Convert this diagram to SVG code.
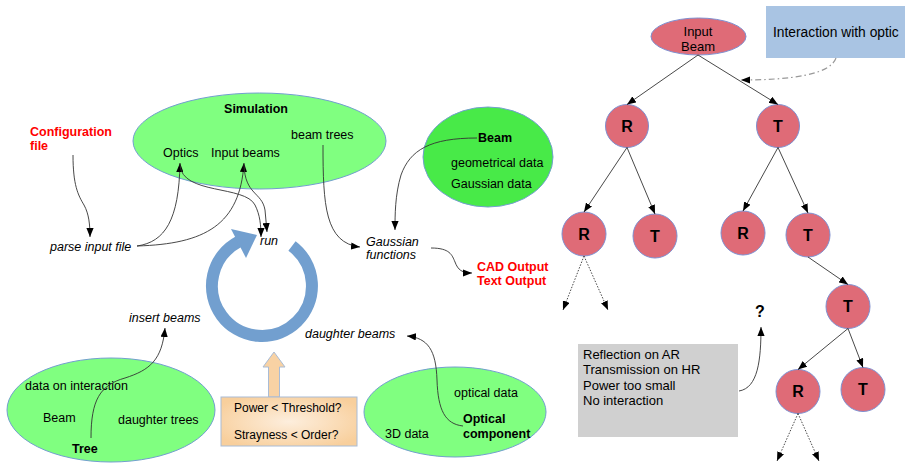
<svg xmlns="http://www.w3.org/2000/svg" width="905" height="463" viewBox="0 0 905 463">
<defs>
<marker id="ah" viewBox="0 0 10 8" refX="10" refY="4" markerWidth="9" markerHeight="7.2" markerUnits="userSpaceOnUse" orient="auto"><path d="M0,0 L10,4 L0,8 z" fill="#000"/></marker>
<radialGradient id="peach" cx="50%" cy="50%" r="60%"><stop offset="0" stop-color="#fdeedd"/><stop offset="1" stop-color="#f8cf9c"/></radialGradient>
<style>
.t{font-family:"Liberation Sans",Arial,sans-serif;font-size:12.5px;fill:#000}
.b{font-weight:bold}
.i{font-style:italic}
.red{fill:#ff0000;font-weight:bold}
.g{fill:#80ff80;stroke:#729fcf;stroke-width:1}
.n{fill:#df6b77;stroke:#7e8fd0;stroke-width:1}
.nt{font-family:"Liberation Sans",Arial,sans-serif;font-size:16px;font-weight:bold;text-anchor:middle;fill:#000}
.c{fill:none;stroke:#333;stroke-width:0.9}
.d{fill:none;stroke:#333;stroke-width:0.9;stroke-dasharray:1.5 1.5}
</style>
</defs>
<rect width="905" height="463" fill="#fff"/>

<g id="simulation">
<ellipse class="g" cx="259.5" cy="141" rx="126.5" ry="48"/>
<text class="t b" x="256" y="113" text-anchor="middle">Simulation</text>
<text class="t" x="163" y="157">Optics</text>
<text class="t" x="211" y="157">Input beams</text>
<text class="t" x="291" y="139">beam trees</text>
</g>

<g id="config">
<text class="t red" x="30" y="136">Configuration</text>
<text class="t red" x="30" y="150">file</text>
</g>

<g id="beam">
<ellipse cx="488" cy="157" rx="65" ry="50" fill="#48ea48" stroke="#729fcf" stroke-width="1"/>
<text class="t b" x="478" y="142">Beam</text>
<text class="t" x="451" y="167">geometrical data</text>
<text class="t" x="451" y="188">Gaussian data</text>
</g>

<g id="parse"><text class="t i" x="50" y="251">parse input file</text></g>
<g id="run"><text class="t i" x="260" y="245">run</text></g>
<g id="gaussian">
<text class="t i" x="366" y="246">Gaussian</text>
<text class="t i" x="366" y="259">functions</text>
</g>
<g id="output">
<text class="t red" x="477" y="271">CAD Output</text>
<text class="t red" x="477" y="285">Text Output</text>
</g>
<g id="insert"><text class="t i" x="129" y="322">insert beams</text></g>
<g id="daughter"><text class="t i" x="305" y="338">daughter beams</text></g>

<g id="loop">
<path d="M292,246 A50,50 0 1 1 238.5,241.8" fill="none" stroke="#729fcf" stroke-width="12"/>
<polygon points="231,229 257,235 246,258" fill="#729fcf"/>
</g>

<g id="tree">
<ellipse class="g" cx="111" cy="410" rx="104" ry="52"/>
<text class="t" x="25" y="390">data on interaction</text>
<text class="t" x="43" y="422">Beam</text>
<text class="t" x="118" y="424">daughter trees</text>
<text class="t b" x="72" y="453">Tree</text>
</g>

<g id="condition">
<polygon points="274,352 285,367 279.5,367 279.5,397 268.5,397 268.5,367 263,367" fill="#f8d2a4" stroke="#a9bcd6" stroke-width="1"/>
<rect x="221" y="397" width="136" height="49" fill="url(#peach)" stroke="#a9bcd6" stroke-width="1"/>
<text class="t" x="234" y="412" style="font-size:12px">Power &lt; Threshold?</text>
<text class="t" x="234" y="439" style="font-size:12px">Strayness &lt; Order?</text>
</g>

<g id="optical">
<ellipse class="g" cx="455" cy="412" rx="91" ry="45"/>
<text class="t" x="454" y="397">optical data</text>
<text class="t b" x="463" y="423">Optical</text>
<text class="t b" x="463" y="438">component</text>
<text class="t" x="385" y="438">3D data</text>
</g>

<g id="inputbeam">
<ellipse class="n" cx="698.5" cy="36.5" rx="47.5" ry="18.5"/>
<text class="t" x="698" y="36" text-anchor="middle" style="font-size:13px">Input</text>
<text class="t" x="698" y="51" text-anchor="middle" style="font-size:13px">Beam</text>
</g>
<g id="interaction">
<rect x="766" y="6" width="139" height="52" fill="#a9c4e3"/>
<text class="t" x="773" y="37" style="font-size:13.8px">Interaction with optic</text>
</g>

<g id="n-R1"><circle class="n" cx="627" cy="126" r="21.5"/><text class="nt" x="627" y="132">R</text></g>
<g id="n-T1"><circle class="n" cx="778" cy="126" r="21.5"/><text class="nt" x="778" y="132">T</text></g>
<g id="n-R2"><circle class="n" cx="584" cy="234" r="22"/><text class="nt" x="584" y="240">R</text></g>
<g id="n-T2"><circle class="n" cx="655" cy="236" r="22"/><text class="nt" x="655" y="242">T</text></g>
<g id="n-R3"><circle class="n" cx="743" cy="233" r="22"/><text class="nt" x="743" y="239">R</text></g>
<g id="n-T3"><circle class="n" cx="808" cy="235" r="22"/><text class="nt" x="808" y="241">T</text></g>
<g id="n-T4"><circle class="n" cx="848" cy="306.5" r="22"/><text class="nt" x="848" y="312">T</text></g>
<g id="n-R5"><circle class="n" cx="798" cy="391.5" r="22"/><text class="nt" x="798" y="397">R</text></g>
<g id="n-T5"><circle class="n" cx="863" cy="389.5" r="22"/><text class="nt" x="863" y="395">T</text></g>

<g id="question"><text class="t b" x="755" y="317" style="font-size:16px">?</text></g>
<g id="reasons">
<rect x="578" y="344" width="160" height="93" fill="#d0d0d0"/>
<text class="t" x="583" y="359" style="font-size:13px">Reflection on AR</text>
<text class="t" x="583" y="374" style="font-size:13px">Transmission on HR</text>
<text class="t" x="583" y="390" style="font-size:13px">Power too small</text>
<text class="t" x="583" y="405" style="font-size:13px">No interaction</text>
</g>

<g id="connectors">
<path class="c" marker-end="url(#ah)" d="M73,155 C73,185 78,195 84,205 C89,214 90,225 90,237"/>
<path class="c" marker-end="url(#ah)" d="M137,246 C165,242 179,220 180,163"/>
<path class="c" marker-end="url(#ah)" d="M137,246 C205,244 240,225 244,163"/>
<path class="c" marker-end="url(#ah)" d="M180,165 C182,195 245,185 255,205 C260,215 261,225 261,237"/>
<path class="c" marker-end="url(#ah)" d="M244,165 C245,195 262,192 265,210 L267,232"/>
<path class="c" marker-end="url(#ah)" d="M323,145 C323,205 325,243 360,247"/>
<path class="c" marker-end="url(#ah)" d="M477,138 C430,138 410,150 401,175 C395,195 395,215 395,230"/>
<path class="c" marker-end="url(#ah)" d="M431,248 C450,248 452,255 455,262 C458,270 462,273 472,273"/>
<path class="c" marker-end="url(#ah)" d="M91,438 C91,400 100,385 125,378 C150,370 162,360 165,328"/>
<path class="c" marker-end="url(#ah)" d="M463,426 C445,424 438,410 437,380 C436,350 428,338 407,336"/>
<path class="c" marker-end="url(#ah)" d="M739,391 C758,388 761,360 761,327"/>
<path fill="none" stroke="#999" stroke-width="1.2" stroke-dasharray="6 3 1.5 3" marker-end="url(#ah)" d="M836,58 C830,75 790,80 741,80"/>
<line class="c" marker-end="url(#ah)" x1="698" y1="55" x2="627" y2="104.5"/>
<line class="c" marker-end="url(#ah)" x1="698" y1="55" x2="778" y2="104.5"/>
<line class="c" marker-end="url(#ah)" x1="627" y1="147.5" x2="584" y2="212"/>
<line class="c" marker-end="url(#ah)" x1="627" y1="147.5" x2="655" y2="214"/>
<line class="c" marker-end="url(#ah)" x1="778" y1="147.5" x2="743" y2="211"/>
<line class="c" marker-end="url(#ah)" x1="778" y1="147.5" x2="808" y2="213"/>
<line class="c" marker-end="url(#ah)" x1="808" y1="257" x2="848" y2="284.5"/>
<line class="c" marker-end="url(#ah)" x1="848" y1="328.5" x2="798" y2="369.5"/>
<line class="c" marker-end="url(#ah)" x1="848" y1="328.5" x2="863" y2="367.5"/>
<line class="d" marker-end="url(#ah)" x1="584" y1="256" x2="563" y2="310"/>
<line class="d" marker-end="url(#ah)" x1="584" y1="256" x2="608" y2="310"/>
<line class="d" marker-end="url(#ah)" x1="798" y1="413.5" x2="777" y2="461"/>
<line class="d" marker-end="url(#ah)" x1="798" y1="413.5" x2="819" y2="461"/>
</g>
</svg>
